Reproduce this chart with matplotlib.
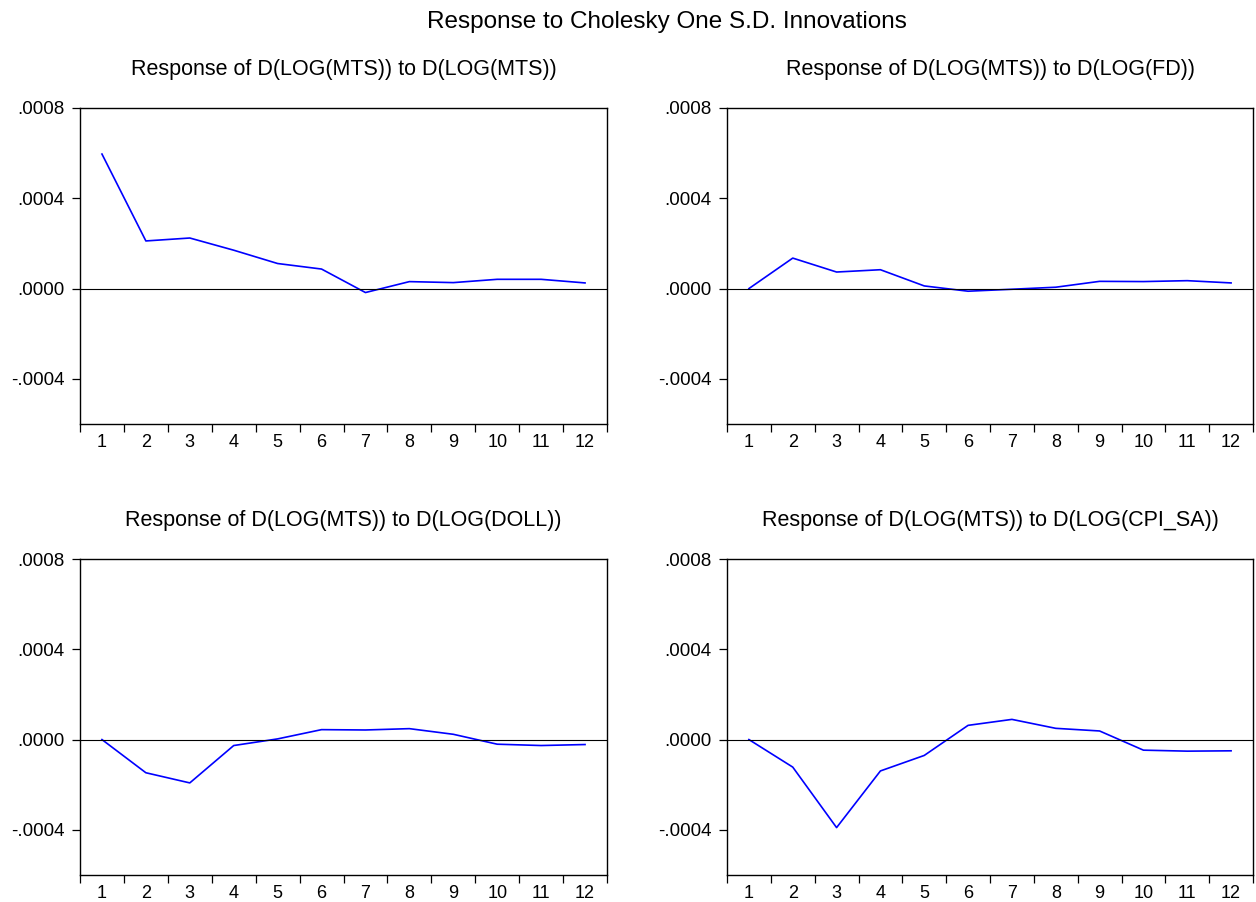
import matplotlib
matplotlib.use("Agg")
import matplotlib.pyplot as plt
from matplotlib.ticker import FuncFormatter, FixedLocator

plt.rcParams['font.family'] = ['Liberation Sans', 'DejaVu Sans']

periods = list(range(1, 13))
resp_mts = [0.000596, 0.000211, 0.000224, 0.000170, 0.000111, 0.0000865,
            -0.0000176, 0.0000308, 0.0000264, 0.000041, 0.000041, 0.000025]
resp_fd = [0.0, 0.000135, 0.0000733, 0.0000835, 0.0000117, -0.0000117,
           -0.000003, 0.000006, 0.000032, 0.000031, 0.000035, 0.000025]
resp_doll = [0.0, -0.000147, -0.000192, -0.0000264, 0.000003, 0.000044,
             0.0000425, 0.0000484, 0.0000234, -0.0000205, -0.0000264, -0.000022]
resp_cpi = [0.0, -0.000122, -0.00039, -0.000139, -0.0000703, 0.000063,
            0.0000894, 0.0000498, 0.0000381, -0.0000469, -0.0000513, -0.0000498]

titles = ["Response of D(LOG(MTS)) to D(LOG(MTS))",
          "Response of D(LOG(MTS)) to D(LOG(FD))",
          "Response of D(LOG(MTS)) to D(LOG(DOLL))",
          "Response of D(LOG(MTS)) to D(LOG(CPI_SA))"]
series = [resp_mts, resp_fd, resp_doll, resp_cpi]
yticks = [-0.0004, 0.0, 0.0004, 0.0008]
main_title = "Response to Cholesky One S.D. Innovations"

W, H = 1256, 902
fig = plt.figure(figsize=(W / 100, H / 100), dpi=100)

# axes boxes in pixels: left, top, right, bottom
boxes = [(80, 108, 607, 424), (727, 108, 1253, 424),
         (80, 559, 607, 875), (727, 559, 1253, 875)]


def fmt(v, pos):
    s = "%.4f" % v
    if s.startswith("-0"):
        return "-" + s[2:]
    if s.startswith("0"):
        return s[1:]
    return s


for (l, t, r, b), title, vals in zip(boxes, titles, series):
    ax = fig.add_axes([l / W, 1 - b / H, (r - l) / W, (b - t) / H])
    ax.plot(periods, vals, color="#0000FF", lw=1.2)
    ax.axhline(0, color="black", lw=0.8)
    ax.set_xlim(0.5, 12.5)
    ax.set_ylim(-0.0006, 0.0008)
    ax.yaxis.set_major_locator(FixedLocator(yticks))
    ax.yaxis.set_major_formatter(FuncFormatter(fmt))
    ax.xaxis.set_major_locator(FixedLocator([p - 0.5 for p in periods] + [12.5]))
    ax.xaxis.set_major_formatter(FuncFormatter(lambda v, p: ""))
    ax.xaxis.set_minor_locator(FixedLocator(periods))
    ax.xaxis.set_minor_formatter(FuncFormatter(lambda v, p: "%d" % round(v)))
    ax.tick_params(axis="x", which="major", direction="out", length=5.5, width=0.9)
    ax.tick_params(axis="x", which="minor", length=0, pad=7.5, labelsize=13)
    ax.tick_params(axis="y", direction="out", length=6, width=0.9, labelsize=13.5, pad=5)
    for sp in ax.spines.values():
        sp.set_linewidth(1.0)
        sp.set_color("black")
    ax.set_title(title, fontsize=15.5, pad=24)

fig.text(667 / W, 1 - 22 / H, main_title, ha="center", va="center", fontsize=17.5)

fig.savefig("out.png", dpi=100)
